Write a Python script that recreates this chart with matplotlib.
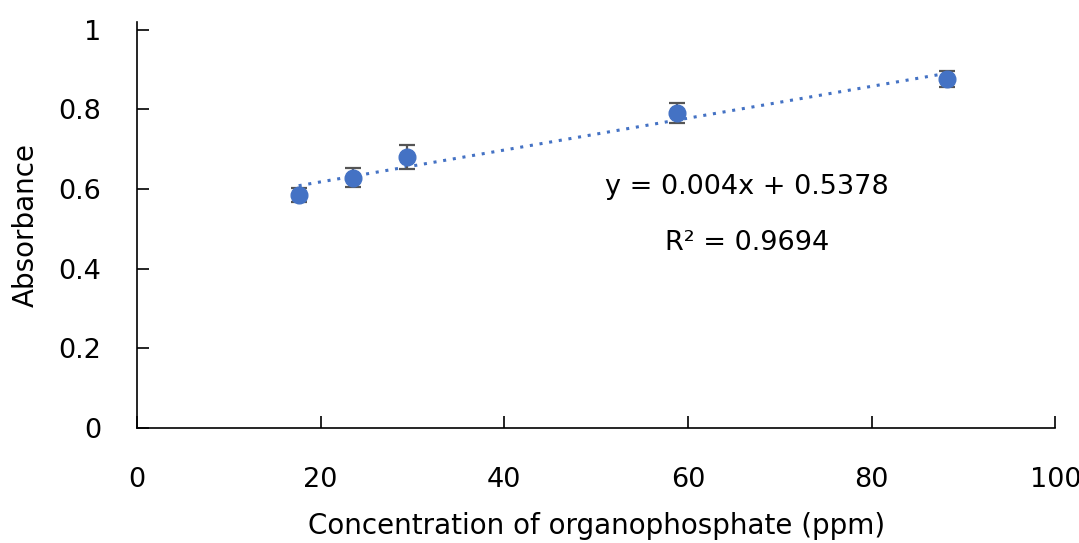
import matplotlib.pyplot as plt
import numpy as np

plt.rcParams['font.family'] = ['DejaVu Sans']

# data
conc = [17.6, 23.5, 29.4, 58.8, 88.2]
absorbance = [0.585, 0.628, 0.680, 0.791, 0.877]
err = [0.018, 0.024, 0.031, 0.026, 0.020]
slope = 0.004
intercept = 0.5378
r_squared = 0.9694

x_ticks = [0, 20, 40, 60, 80, 100]
y_ticks = [0, 0.2, 0.4, 0.6, 0.8, 1]
y_tick_labels = ['0', '0.2', '0.4', '0.6', '0.8', '1']

blue = '#4472C4'
fs = 19.5

fig = plt.figure(figsize=(10.79, 5.43), dpi=100)
ax = fig.add_axes([0.127, 0.212, 0.851, 0.748])

# trendline
xs = np.array([conc[0], conc[-1]])
ax.plot(xs, slope * xs + intercept, linestyle=(0, (1, 2.2)), color=blue,
        linewidth=2.2, zorder=1)

ax.errorbar(conc, absorbance, yerr=err, fmt='o', color=blue, markersize=12,
            ecolor='#555555', elinewidth=1.6, capsize=5.5, capthick=1.6, zorder=3)

ax.text(66.4, 0.605, 'y = {}x + {}'.format(slope, intercept), fontsize=fs,
        ha='center', va='center')
ax.text(66.4, 0.465, 'R² = {}'.format(r_squared), fontsize=fs,
        ha='center', va='center')

ax.set_xlim(0, 100)
ax.set_ylim(0, 1.02)
ax.set_xticks(x_ticks)
ax.set_yticks(y_ticks)
ax.set_yticklabels(y_tick_labels)

ax.spines['top'].set_visible(False)
ax.spines['right'].set_visible(False)
ax.spines['left'].set_linewidth(1.2)
ax.spines['bottom'].set_linewidth(1.2)
ax.tick_params(axis='both', direction='in', length=8.5, width=1.2, labelsize=fs)
ax.tick_params(axis='x', pad=28)
ax.tick_params(axis='y', pad=26)

ax.set_xlabel('Concentration of organophosphate (ppm)', fontsize=20, labelpad=14)
ax.set_ylabel('Absorbance', fontsize=20, labelpad=13)

fig.savefig('out.png', dpi=100)
